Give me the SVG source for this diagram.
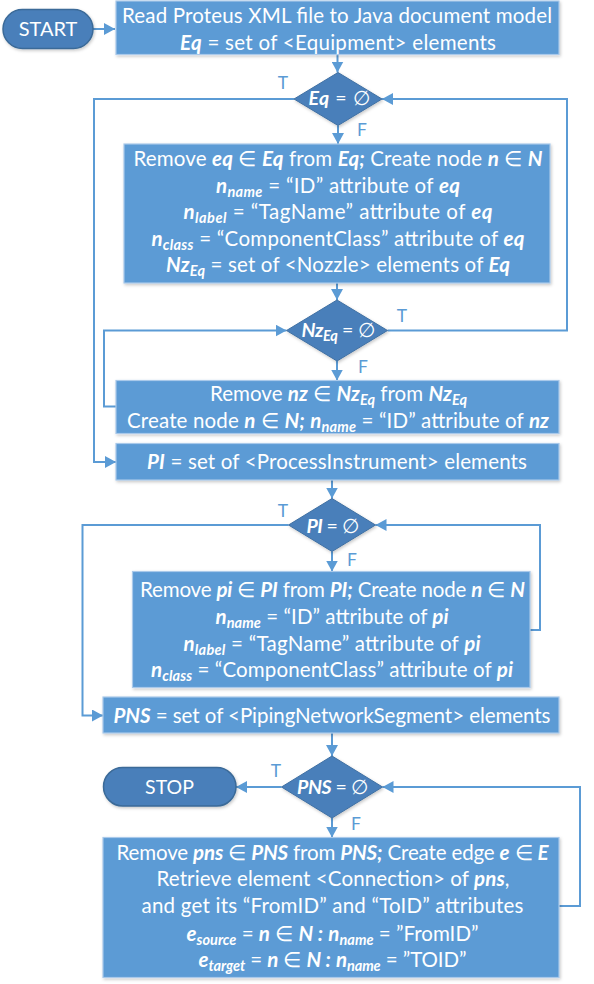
<svg xmlns="http://www.w3.org/2000/svg" width="594" height="984" viewBox="0 0 594 984">
<defs>
<style>
.box{fill:#5b9bd5;stroke:#a9c9ea;stroke-width:1.2}
.dec{fill:#4a7fba;stroke:#3f70a3;stroke-width:1}
.term{fill:#4a7fba;stroke:#3a6a98;stroke-width:1.5}
.t{font-family:Lato,"Liberation Sans",sans-serif;font-size:20.5px;fill:#fff;text-anchor:middle}
.d{font-size:19.5px}
.v{font-weight:bold;font-style:italic}
.s{font-size:14.5px;font-weight:bold;font-style:italic}
.lbl{font-family:Lato,"Liberation Sans",sans-serif;font-size:17.5px;fill:#5b9bd5;text-anchor:middle}
.conn{fill:none;stroke:#5b9bd5;stroke-width:2}
</style>
<marker id="ah" markerUnits="userSpaceOnUse" markerWidth="12" markerHeight="12" refX="11" refY="6" orient="auto">
<path d="M0,0 L11,6 L0,12 z" fill="#5b9bd5"/>
</marker>
<filter id="sh" x="-10%" y="-10%" width="120%" height="130%">
<feDropShadow dx="1" dy="1.5" stdDeviation="1.5" flood-color="#000" flood-opacity="0.22"/>
</filter>
</defs>

<g id="connectors" class="conn" marker-end="url(#ah)">
<path d="M93,29 H115"/>
<path d="M337.5,54.5 V72.5"/>
<path d="M294,99 H94 V462 H116"/>
<path d="M338,125.5 V144"/>
<path d="M337,283 V300"/>
<path d="M387.5,330.5 H567 V99 H382"/>
<path d="M337,361 V380.5"/>
<path d="M116,406.5 H104 V330.5 H286.5"/>
<path d="M332,480 V498.5"/>
<path d="M288.5,525 H82.5 V715.5 H103"/>
<path d="M332,551.5 V571.5"/>
<path d="M530,630 H540 V525 H375.5"/>
<path d="M332,733 V756"/>
<path d="M281.5,787 H236"/>
<path d="M332,818 V837.5"/>
<path d="M559,906 H580 V787 H382.5"/>
</g>

<g id="labels">
<text class="lbl" x="283" y="88.5">T</text>
<text class="lbl" x="362" y="136">F</text>
<text class="lbl" x="402" y="321.5">T</text>
<text class="lbl" x="363" y="373">F</text>
<text class="lbl" x="283" y="516.5">T</text>
<text class="lbl" x="352" y="566">F</text>
<text class="lbl" x="276" y="776.5">T</text>
<text class="lbl" x="356" y="830">F</text>
</g>

<g id="start">
<rect class="term" x="3" y="9.5" width="90" height="39" rx="19.5" filter="url(#sh)"/>
<text class="t" x="48" y="36" style="font-size:20px">START</text>
</g>

<g id="read-xml">
<rect class="box" x="116" y="1" width="443" height="53.5" filter="url(#sh)"/>
<text class="t" x="337" y="22.5" textLength="430">Read Proteus XML file to Java document model</text>
<text class="t" x="338" y="49.5" textLength="316"><tspan class="v">Eq</tspan> = set of &lt;Equipment&gt; elements</text>
</g>

<g id="eq-empty">
<polygon class="dec" points="338,72.5 382,99 338,125.5 294,99" filter="url(#sh)"/>
<text class="t d" x="339" y="105" textLength="61"><tspan class="v">Eq</tspan> = ∅</text>
</g>

<g id="eq-process">
<rect class="box" x="124" y="144" width="426" height="139" filter="url(#sh)"/>
<text class="t" x="338" y="166" textLength="409">Remove <tspan class="v">eq</tspan> ∈ <tspan class="v">Eq</tspan> from <tspan class="v">Eq;</tspan> Create node <tspan class="v">n</tspan> ∈ <tspan class="v">N</tspan></text>
<text class="t" x="338" y="192.5" textLength="244"><tspan class="v">n</tspan><tspan class="s" dy="4">name</tspan><tspan dy="-4"> = “ID” attribute of </tspan><tspan class="v">eq</tspan></text>
<text class="t" x="338" y="219" textLength="309"><tspan class="v">n</tspan><tspan class="s" dy="4">label</tspan><tspan dy="-4"> = “TagName” attribute of </tspan><tspan class="v">eq</tspan></text>
<text class="t" x="338" y="245.5" textLength="373"><tspan class="v">n</tspan><tspan class="s" dy="4">class</tspan><tspan dy="-4"> = “ComponentClass” attribute of </tspan><tspan class="v">eq</tspan></text>
<text class="t" x="338" y="272" textLength="344"><tspan class="v">Nz</tspan><tspan class="s" dy="4">Eq</tspan><tspan dy="-4"> = set of &lt;Nozzle&gt; elements of </tspan><tspan class="v">Eq</tspan></text>
</g>

<g id="nz-empty">
<polygon class="dec" points="337,300 387.5,330.5 337,361 286.5,330.5" filter="url(#sh)"/>
<text class="t d" x="338" y="336.5" textLength="73"><tspan class="v">Nz</tspan><tspan class="s" dy="4">Eq</tspan><tspan dy="-4"> = ∅</tspan></text>
</g>

<g id="nz-process">
<rect class="box" x="116" y="380.5" width="443" height="53" filter="url(#sh)"/>
<text class="t" x="338.5" y="401" textLength="257">Remove <tspan class="v">nz</tspan> ∈ <tspan class="v">Nz</tspan><tspan class="s" dy="4">Eq</tspan><tspan dy="-4"> from </tspan><tspan class="v">Nz</tspan><tspan class="s" dy="4">Eq</tspan></text>
<text class="t" x="338" y="428" textLength="422">Create node <tspan class="v">n</tspan> ∈ <tspan class="v">N;</tspan> <tspan class="v">n</tspan><tspan class="s" dy="4">name</tspan><tspan dy="-4"> = “ID” attribute of </tspan><tspan class="v">nz</tspan></text>
</g>

<g id="pi-set">
<rect class="box" x="116" y="443.5" width="443" height="36.5" filter="url(#sh)"/>
<text class="t" x="337" y="468.5" textLength="380"><tspan class="v">PI</tspan> = set of &lt;ProcessInstrument&gt; elements</text>
</g>

<g id="pi-empty">
<polygon class="dec" points="332,498.5 375.5,525 332,551.5 288.5,525" filter="url(#sh)"/>
<text class="t d" x="332.5" y="532.5" textLength="52"><tspan class="v">PI</tspan> = ∅</text>
</g>

<g id="pi-process">
<rect class="box" x="132.5" y="571.5" width="397.5" height="116" filter="url(#sh)"/>
<text class="t" x="332.5" y="597" textLength="385">Remove <tspan class="v">pi</tspan> ∈ <tspan class="v">PI</tspan> from <tspan class="v">PI;</tspan> Create node <tspan class="v">n</tspan> ∈ <tspan class="v">N</tspan></text>
<text class="t" x="332" y="623.5" textLength="233"><tspan class="v">n</tspan><tspan class="s" dy="4">name</tspan><tspan dy="-4"> = “ID” attribute of </tspan><tspan class="v">pi</tspan></text>
<text class="t" x="332" y="650.5" textLength="297"><tspan class="v">n</tspan><tspan class="s" dy="4">label</tspan><tspan dy="-4"> = “TagName” attribute of </tspan><tspan class="v">pi</tspan></text>
<text class="t" x="332" y="677" textLength="362"><tspan class="v">n</tspan><tspan class="s" dy="4">class</tspan><tspan dy="-4"> = “ComponentClass” attribute of </tspan><tspan class="v">pi</tspan></text>
</g>

<g id="pns-set">
<rect class="box" x="103" y="697" width="456" height="36" filter="url(#sh)"/>
<text class="t" x="332" y="722.5" textLength="437"><tspan class="v">PNS</tspan> = set of &lt;PipingNetworkSegment&gt; elements</text>
</g>

<g id="pns-empty">
<polygon class="dec" points="332,756 382.5,787 332,818 281.5,787" filter="url(#sh)"/>
<text class="t d" x="332.5" y="794" textLength="71"><tspan class="v">PNS</tspan> = ∅</text>
</g>

<g id="stop">
<rect class="term" x="103.5" y="767.5" width="132.5" height="38.5" rx="19.25" filter="url(#sh)"/>
<text class="t" x="169.5" y="794" style="font-size:19.5px">STOP</text>
</g>

<g id="pns-process">
<rect class="box" x="103" y="837.5" width="456" height="140" filter="url(#sh)"/>
<text class="t" x="332.5" y="859.5" textLength="432">Remove <tspan class="v">pns</tspan> ∈ <tspan class="v">PNS</tspan> from <tspan class="v">PNS;</tspan> Create edge <tspan class="v">e</tspan> ∈ <tspan class="v">E</tspan></text>
<text class="t" x="333" y="886" textLength="353">Retrieve element &lt;Connection&gt; of <tspan class="v">pns</tspan>,</text>
<text class="t" x="332.5" y="913" textLength="382">and get its “FromID” and “ToID” attributes</text>
<text class="t" x="332.5" y="940.5" textLength="292"><tspan class="v">e</tspan><tspan class="s" dy="4">source</tspan><tspan dy="-4">  = </tspan><tspan class="v">n</tspan> ∈ <tspan class="v">N :</tspan> <tspan class="v">n</tspan><tspan class="s" dy="4">name</tspan><tspan dy="-4"> = ”FromID”</tspan></text>
<text class="t" x="332.5" y="967" textLength="268"><tspan class="v">e</tspan><tspan class="s" dy="4">target</tspan><tspan dy="-4">  = </tspan><tspan class="v">n</tspan> ∈ <tspan class="v">N :</tspan> <tspan class="v">n</tspan><tspan class="s" dy="4">name</tspan><tspan dy="-4"> = ”TOID”</tspan></text>
</g>
</svg>
